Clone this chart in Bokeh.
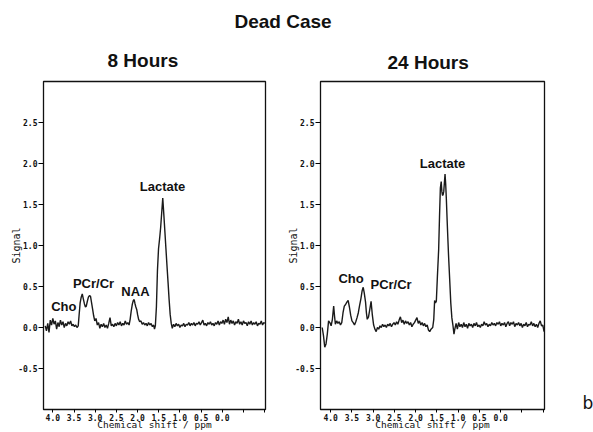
from bokeh.plotting import figure
from bokeh.layouts import column, row
from bokeh.models import Range1d, FixedTicker, Label, ColumnDataSource, PrintfTickFormatter
from bokeh.core.properties import value
from bokeh.embed import file_html
from bokeh.resources import INLINE

suptitle = "Dead Case"
panel_titles = ["8 Hours", "24 Hours"]
x_axis_title = "Chemical shift / ppm"
y_axis_title = "Signal"
x_tick_values = [4.0, 3.5, 3.0, 2.5, 2.0, 1.5, 1.0, 0.5, 0.0]
x_minor_ticks = [-0.5, -1.0]
y_tick_values = [-0.5, 0.0, 0.5, 1.0, 1.5, 2.0, 2.5]
panel_letter = "b"

ppm_8h = [
    4.18, 4.15, 4.12, 4.09, 4.06, 4.03, 4.00, 3.97, 3.94, 3.91,
    3.88, 3.85, 3.82, 3.79, 3.76, 3.73, 3.70, 3.67, 3.64, 3.61,
    3.58, 3.55, 3.52, 3.49, 3.46, 3.43, 3.40, 3.38, 3.355, 3.33,
    3.305, 3.28, 3.255, 3.23, 3.21, 3.185, 3.16, 3.135, 3.11, 3.085,
    3.06, 3.035, 3.01, 2.98, 2.95, 2.92, 2.89, 2.86, 2.83, 2.80,
    2.77, 2.74, 2.71, 2.68, 2.65, 2.62, 2.59, 2.56, 2.53, 2.50,
    2.47, 2.44, 2.41, 2.38, 2.35, 2.32, 2.29, 2.26, 2.23, 2.20,
    2.175, 2.15, 2.125, 2.10, 2.08, 2.06, 2.04, 2.02, 2.00, 1.975,
    1.95, 1.92, 1.89, 1.86, 1.83, 1.80, 1.77, 1.74, 1.71, 1.68,
    1.65, 1.62, 1.60, 1.58, 1.555, 1.53, 1.505, 1.48, 1.455, 1.43,
    1.405, 1.38, 1.355, 1.33, 1.305, 1.28, 1.255, 1.23, 1.205, 1.18,
    1.15, 1.12, 1.09, 1.06, 1.03, 1.00, 0.97, 0.94, 0.91, 0.88,
    0.85, 0.82, 0.79, 0.76, 0.73, 0.70, 0.67, 0.64, 0.61, 0.58,
    0.55, 0.52, 0.49, 0.46, 0.43, 0.40, 0.37, 0.34, 0.31, 0.28,
    0.25, 0.22, 0.19, 0.16, 0.13, 0.10, 0.07, 0.04, 0.01, -0.02,
    -0.05, -0.08, -0.11, -0.14, -0.17, -0.20, -0.23, -0.26, -0.29, -0.32,
    -0.35, -0.38, -0.41, -0.44, -0.47, -0.50, -0.53, -0.56, -0.59, -0.62,
    -0.65, -0.68, -0.71, -0.74, -0.77, -0.80, -0.83, -0.86, -0.89, -0.92,
    -0.95, -0.98, -1.00,
]
signal_8h = [
    0.02, -0.04, 0.05, -0.06, 0.09, 0.03, 0.11, 0.04, 0.08, -0.02,
    0.06, 0.01, 0.09, 0.03, 0.07, 0.00, 0.05, 0.02, 0.07, 0.04,
    0.08, 0.02, 0.04, 0.01, 0.03, 0.00, 0.02, 0.15, 0.30, 0.37,
    0.41, 0.35, 0.29, 0.25, 0.26, 0.32, 0.37, 0.39, 0.38, 0.30,
    0.22, 0.14, 0.08, 0.11, 0.03, 0.06, -0.01, 0.04, 0.01, 0.05,
    0.00, 0.03, -0.01, 0.05, 0.12, 0.02, 0.04, 0.01, 0.05, 0.02,
    0.06, 0.03, 0.07, 0.02, 0.05, 0.03, 0.08, 0.04, 0.06, 0.03,
    0.10, 0.20, 0.28, 0.33, 0.34, 0.29, 0.25, 0.22, 0.16, 0.10,
    0.07, 0.08, 0.04, 0.06, 0.03, 0.05, 0.02, 0.06, 0.03, 0.05,
    0.01, 0.03, -0.02, 0.02, 0.25, 0.70, 0.96, 1.08, 1.22, 1.40,
    1.58, 1.38, 1.17, 0.96, 0.75, 0.55, 0.34, 0.16, 0.05, -0.01,
    0.04, 0.01, 0.05, 0.02, 0.04, 0.00, 0.03, 0.02, 0.05, 0.01,
    0.04, 0.03, 0.06, 0.02, 0.05, 0.03, 0.06, 0.02, 0.05, 0.04,
    0.07, 0.03, 0.06, 0.09, 0.03, 0.05, 0.02, 0.06, 0.04, 0.07,
    0.03, 0.05, 0.02, 0.06, 0.04, 0.08, 0.03, 0.07, 0.05, 0.09,
    0.04, 0.10, 0.06, 0.13, 0.04, 0.09, 0.05, 0.08, 0.03, 0.07,
    0.05, 0.10, 0.04, 0.07, 0.03, 0.08, 0.05, 0.06, 0.02, 0.07,
    0.04, 0.08, 0.03, 0.06, 0.04, 0.07, 0.02, 0.05, 0.04, 0.08,
    0.03, 0.06, 0.05,
]

ppm_24h = [
    4.20, 4.17, 4.14, 4.11, 4.08, 4.05, 4.02, 3.99, 3.96, 3.93,
    3.91, 3.89, 3.86, 3.83, 3.80, 3.77, 3.74, 3.71, 3.68, 3.65,
    3.62, 3.59, 3.56, 3.53, 3.50, 3.47, 3.44, 3.41, 3.38, 3.35,
    3.32, 3.29, 3.26, 3.235, 3.21, 3.18, 3.16, 3.14, 3.11, 3.08,
    3.05, 3.02, 2.99, 2.96, 2.93, 2.90, 2.87, 2.84, 2.81, 2.78,
    2.75, 2.72, 2.69, 2.66, 2.63, 2.60, 2.57, 2.54, 2.51, 2.48,
    2.45, 2.42, 2.39, 2.36, 2.33, 2.30, 2.27, 2.24, 2.21, 2.18,
    2.15, 2.12, 2.09, 2.06, 2.03, 2.00, 1.97, 1.94, 1.91, 1.88,
    1.85, 1.82, 1.79, 1.76, 1.73, 1.70, 1.67, 1.64, 1.60, 1.575,
    1.555, 1.535, 1.515, 1.49, 1.46, 1.44, 1.42, 1.40, 1.385, 1.37,
    1.355, 1.34, 1.32, 1.31, 1.295, 1.28, 1.26, 1.245, 1.225, 1.20,
    1.175, 1.15, 1.125, 1.10, 1.08, 1.05, 1.02, 0.99, 0.96, 0.93,
    0.90, 0.87, 0.84, 0.81, 0.78, 0.75, 0.72, 0.69, 0.66, 0.63,
    0.60, 0.57, 0.54, 0.51, 0.48, 0.45, 0.42, 0.39, 0.36, 0.33,
    0.30, 0.27, 0.24, 0.21, 0.18, 0.15, 0.12, 0.09, 0.06, 0.03,
    0.00, -0.03, -0.06, -0.09, -0.12, -0.15, -0.18, -0.21, -0.24, -0.27,
    -0.30, -0.33, -0.36, -0.39, -0.42, -0.45, -0.48, -0.51, -0.54, -0.57,
    -0.60, -0.63, -0.66, -0.69, -0.72, -0.75, -0.78, -0.81, -0.84, -0.87,
    -0.90, -0.93, -0.96, -0.99, -1.02,
]
signal_24h = [
    0.00, -0.10, -0.24, -0.20, -0.08, 0.08, 0.06, 0.02, 0.10, 0.26,
    0.14, 0.04, 0.08, 0.05, 0.07, 0.03, 0.06, 0.18, 0.26, 0.28,
    0.31, 0.33, 0.25, 0.15, 0.08, 0.06, 0.03, 0.07, 0.12, 0.18,
    0.27, 0.35, 0.45, 0.49, 0.42, 0.31, 0.18, 0.10, 0.13, 0.22,
    0.32, 0.15, 0.03, -0.02, -0.05, 0.00, -0.02, 0.02, 0.00, 0.04,
    0.01, 0.03, 0.00, 0.04, 0.02, 0.05, 0.01, 0.04, 0.06, 0.03,
    0.07, 0.04, 0.09, 0.13, 0.06, 0.09, 0.04, 0.08, 0.05, 0.07,
    0.03, 0.06, 0.01, 0.04, 0.06, 0.09, 0.12, 0.05, 0.08, 0.03,
    0.06, 0.02, 0.05, 0.01, 0.03, -0.03, -0.05, -0.02, 0.00, 0.10,
    0.33, 0.30, 0.32, 0.62, 0.95, 1.35, 1.70, 1.78, 1.66, 1.61,
    1.62, 1.66, 1.80, 1.87, 1.75, 1.58, 1.30, 1.10, 0.85, 0.58,
    0.30, 0.12, 0.03, -0.08, -0.02, 0.05, -0.02, 0.06, 0.01, 0.04,
    0.00, 0.06, 0.01, 0.04, -0.01, 0.05, 0.02, 0.04, 0.00, 0.05,
    0.02, 0.06, 0.01, 0.03, 0.00, 0.04, 0.02, 0.07, 0.03, 0.05,
    0.01, 0.04, 0.02, 0.06, 0.03, 0.05, 0.02, 0.06, 0.04, 0.07,
    0.02, 0.05, 0.03, 0.06, 0.01, 0.05, 0.07, 0.02, 0.06, 0.04,
    0.07, 0.01, 0.05, 0.03, 0.06, 0.02, 0.05, 0.00, 0.04, 0.02,
    0.06, 0.01, 0.04, 0.03, 0.07, 0.02, 0.05, 0.01, 0.04, 0.00,
    0.05, 0.08, 0.02, 0.03, -0.05,
]

peak_names_8h = ["Cho", "PCr/Cr", "NAA", "Lactate"]
peak_label_ppm_8h = [3.74, 3.04, 2.05, 1.41]
peak_label_sig_8h = [0.26, 0.54, 0.44, 1.72]

peak_names_24h = ["Cho", "PCr/Cr", "Lactate"]
peak_label_ppm_24h = [3.52, 2.58, 1.37]
peak_label_sig_24h = [0.60, 0.53, 2.005]

MONO = "DejaVu Sans Mono"
SANS = "Liberation Sans"
INK = "#111111"


def make_panel(title, ppm, sig, names, lx, ly, x_start, x_end, width, height,
               b_left, b_right, b_top, b_bottom, title_offset, title_standoff):
    p = figure(width=width, height=height, title=title,
               x_range=Range1d(x_start, x_end), y_range=Range1d(-1.0, 3.0),
               output_backend="svg", toolbar_location=None,
               min_border_left=b_left, min_border_right=b_right,
               min_border_top=b_top, min_border_bottom=b_bottom,
               background_fill_color="white", border_fill_color="white")
    p.title.align = "left"
    p.title.text_font = SANS
    p.title.text_font_size = "19px"
    p.title.text_font_style = "bold"
    p.title.text_color = INK
    p.title.offset = title_offset
    p.title.standoff = title_standoff
    p.grid.visible = False
    p.outline_line_color = INK
    p.outline_line_width = 1.3

    p.line(ppm, sig, line_color="#1a1a1a", line_width=1.4)
    src = ColumnDataSource(dict(x=lx, y=ly, t=names))
    p.text(x="x", y="y", text="t", source=src, text_font=value(SANS),
           text_font_style="bold", text_font_size="13px", text_align="center",
           text_baseline="middle", text_color=INK)

    xa = p.xaxis[0]
    xa.ticker = FixedTicker(ticks=x_tick_values, minor_ticks=x_minor_ticks)
    xa.formatter = PrintfTickFormatter(format="%.1f")
    xa.major_tick_out = 3
    xa.major_tick_in = 0
    xa.minor_tick_out = 3
    xa.minor_tick_in = 0
    xa.major_label_standoff = 1
    xa.major_label_text_font = MONO
    xa.major_label_text_font_size = "8px"
    xa.major_label_text_font_style = "bold"
    xa.major_label_text_color = INK
    xa.axis_label = x_axis_title
    xa.axis_label_text_font = MONO
    xa.axis_label_text_font_size = "9.5px"
    xa.axis_label_text_font_style = "normal"
    xa.axis_label_text_color = INK
    xa.axis_label_standoff = -5
    xa.axis_line_color = INK

    ya = p.yaxis[0]
    ya.ticker = FixedTicker(ticks=y_tick_values)
    ya.formatter = PrintfTickFormatter(format="%.1f")
    ya.major_tick_out = 5
    ya.major_tick_in = 0
    ya.minor_tick_out = 0
    ya.minor_tick_in = 0
    ya.major_label_standoff = 1
    ya.major_label_text_font = MONO
    ya.major_label_text_font_size = "8px"
    ya.major_label_text_font_style = "bold"
    ya.major_label_text_color = INK
    ya.axis_label = y_axis_title
    ya.axis_label_text_font = MONO
    ya.axis_label_text_font_size = "10px"
    ya.axis_label_text_font_style = "normal"
    ya.axis_label_text_color = INK
    ya.axis_label_standoff = -7
    ya.axis_line_color = INK
    return p


p1 = make_panel(panel_titles[0], ppm_8h, signal_8h, peak_names_8h,
                peak_label_ppm_8h, peak_label_sig_8h, 4.22, -1.02,
                278, 400, 43, 13, 49, 21, 64, 22)
p2 = make_panel(panel_titles[1], ppm_24h, signal_24h, peak_names_24h,
                peak_label_ppm_24h, peak_label_sig_24h, 4.24, -1.03,
                296, 400, 42, 30, 46, 23, 67, 17)

p3 = figure(width=19, height=400, title=None, x_range=Range1d(0, 19), y_range=Range1d(0, 400),
            x_axis_type=None, y_axis_type=None, output_backend="svg",
            toolbar_location=None, min_border=0,
            background_fill_color="white", border_fill_color="white")
p3.grid.visible = False
p3.outline_line_color = None
p3.add_layout(Label(x=8, y=8, text=panel_letter, text_font="DejaVu Sans",
                    text_font_size="17px", text_align="left",
                    text_baseline="alphabetic", text_color=INK))

top = figure(width=593, height=32, title=None, x_range=Range1d(0, 593), y_range=Range1d(0, 32),
             x_axis_type=None, y_axis_type=None, output_backend="svg",
             toolbar_location=None, min_border=0,
             background_fill_color="white", border_fill_color="white")
top.grid.visible = False
top.outline_line_color = None
top.add_layout(Label(x=282.5, y=11.5, text=suptitle, text_align="center",
                     text_baseline="alphabetic", text_font=SANS,
                     text_font_size="19px", text_font_style="bold",
                     text_color=INK))

layout = column(top, row(p1, p2, p3, spacing=0), spacing=0)
open("out.html", "w").write(file_html(layout, INLINE))
